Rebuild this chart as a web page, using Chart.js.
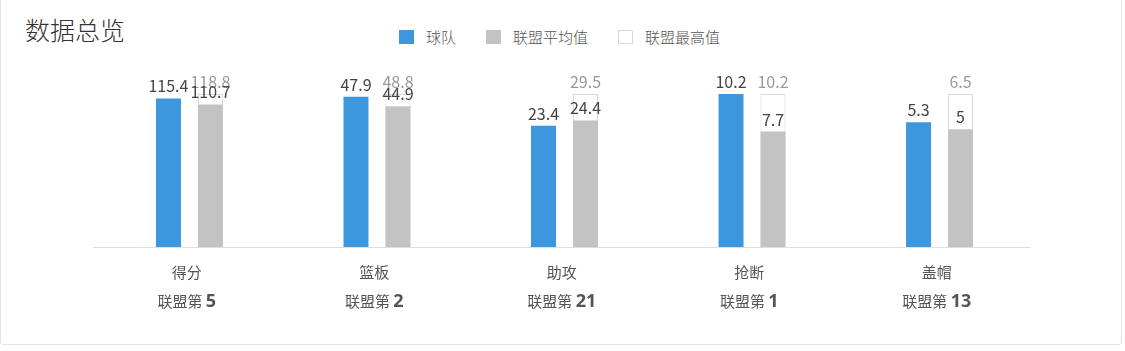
<!DOCTYPE html>
<html>
<head>
<meta charset="utf-8">
<script src="https://cdn.jsdelivr.net/npm/chart.js@4.4.0/dist/chart.umd.min.js"></script>
<style>
    html, body { margin: 0; padding: 0; background: #fff; }
    body {
        width: 1125px; height: 351px; position: relative; overflow: hidden;
        font-family: "Noto Sans CJK SC", "Microsoft YaHei", sans-serif;
    }
    .frame {
        position: absolute; left: 0; top: -4px; width: 1120px; height: 347px;
        border: 1px solid #e4e4e4; border-radius: 3px;
    }
    .title {
        position: absolute; left: 25px; top: 12px;
        font-size: 25px; line-height: 34px; color: #333; font-weight: 300;
    }
    #legend {
        position: absolute; left: 399px; top: 30px; height: 14px;
        display: flex; align-items: center;
    }
    .legend-item { display: flex; align-items: center; margin-right: 30px; }
    .legend-box { width: 15px; height: 14px; box-sizing: border-box; margin-right: 12px; }
    .legend-text { font-size: 15px; line-height: 14px; color: #555; font-weight: 300; }
    #chart { position: absolute; left: 0; top: 0; }
</style>
</head>
<body>
<div class="frame"></div>
<div class="title">数据总览</div>
<div id="legend"></div>
<canvas id="chart" width="1125" height="351"></canvas>

<script>
// Chart data
const categories = ['得分', '篮板', '助攻', '抢断', '盖帽'];
const leagueRanks = [5, 2, 21, 1, 13];
const seriesNames = ['球队', '联盟平均值', '联盟最高值'];
const teamValues = [115.4, 47.9, 23.4, 10.2, 5.3];
const leagueAvg = [110.7, 44.9, 24.4, 7.7, 5];
const leagueMax = [118.8, 48.8, 29.5, 10.2, 6.5];

// each category is scaled against the league best
const scaled = (arr) => arr.map((v, i) => v / leagueMax[i]);

const labelShift = 2.7;
const valueFont = '16px "Noto Sans CJK SC", sans-serif';

// value labels above every bar
const valueLabels = {
    id: 'valueLabels',
    afterDatasetsDraw(chart) {
        const ctx = chart.ctx;
        ctx.save();
        ctx.font = valueFont;
        ctx.textAlign = 'center';
        ctx.textBaseline = 'alphabetic';
        for (let d = chart.data.datasets.length - 1; d >= 0; d--) {
            const ds = chart.data.datasets[d];
            const meta = chart.getDatasetMeta(d);
            ctx.fillStyle = ds.labelColor;
            meta.data.forEach((bar, i) => {
                ctx.fillText(String(ds.rawValues[i]), bar.x, bar.y - 6);
            });
        }
        ctx.restore();
    }
};

// baseline + two-line category labels
const categoryAxis = {
    id: 'categoryAxis',
    afterDraw(chart) {
        const ctx = chart.ctx;
        const area = chart.chartArea;
        const xScale = chart.scales.x;
        ctx.save();
        ctx.strokeStyle = '#dedede';
        ctx.lineWidth = 1;
        ctx.beginPath();
        ctx.moveTo(area.left - labelShift, area.bottom + 0.5);
        ctx.lineTo(area.right - labelShift, area.bottom + 0.5);
        ctx.stroke();

        ctx.fillStyle = '#555';
        categories.forEach((name, i) => {
            const x = xScale.getPixelForValue(i) - labelShift;
            ctx.font = '15px "Noto Sans CJK SC", sans-serif';
            ctx.textAlign = 'center';
            ctx.textBaseline = 'middle';
            ctx.fillText(name, x, 272);

            const prefix = '联盟第 ';
            const num = String(leagueRanks[i]);
            ctx.textAlign = 'left';
            ctx.textBaseline = 'alphabetic';
            const wPrefix = ctx.measureText(prefix).width;
            ctx.font = 'bold 18px "Open Sans", "Noto Sans CJK SC", sans-serif';
            const wNum = ctx.measureText(num).width;
            const start = x - (wPrefix + wNum) / 2;
            ctx.font = '15px "Noto Sans CJK SC", sans-serif';
            ctx.fillText(prefix, start, 307);
            ctx.font = 'bold 18px "Open Sans", "Noto Sans CJK SC", sans-serif';
            ctx.fillText(num, start + wPrefix, 307);
        });
        ctx.restore();
    }
};

const chart = new Chart(document.getElementById('chart'), {
    type: 'bar',
    data: {
        labels: categories,
        datasets: [
            {
                label: seriesNames[0],
                data: scaled(teamValues),
                rawValues: teamValues,
                stack: 'team',
                backgroundColor: '#3d97df',
                labelColor: '#444',
                borderWidth: 0
            },
            {
                label: seriesNames[1],
                data: scaled(leagueAvg),
                rawValues: leagueAvg,
                stack: 'league',
                backgroundColor: '#c3c3c3',
                labelColor: '#444',
                borderWidth: 0
            },
            {
                label: seriesNames[2],
                data: scaled(leagueMax),
                rawValues: leagueMax,
                stack: 'league',
                backgroundColor: '#ffffff',
                borderColor: '#d8d8d8',
                borderWidth: { top: 1, left: 1, right: 1, bottom: 0 },
                labelColor: '#999'
            }
        ]
    },
    options: {
        responsive: false,
        animation: false,
        devicePixelRatio: 1,
        categoryPercentage: 0.448,
        barPercentage: 0.595,
        layout: { padding: { left: 95.7, right: 91.7, top: 94, bottom: 104 } },
        scales: {
            x: { display: false, grid: { display: false } },
            y: { display: false, stacked: false, min: 0, max: 1 }
        },
        plugins: {
            legend: { display: false },
            tooltip: { enabled: false }
        }
    },
    plugins: [valueLabels, categoryAxis]
});

// html legend built from the datasets
const legendEl = document.getElementById('legend');
legendEl.innerHTML = chart.data.datasets.map(ds => `
    <div class="legend-item">
        <div class="legend-box" style="background:${ds.backgroundColor};${ds.borderColor ? 'border:1px solid ' + ds.borderColor + ';' : ''}"></div>
        <div class="legend-text">${ds.label}</div>
    </div>
`).join('');
</script>
</body>
</html>
